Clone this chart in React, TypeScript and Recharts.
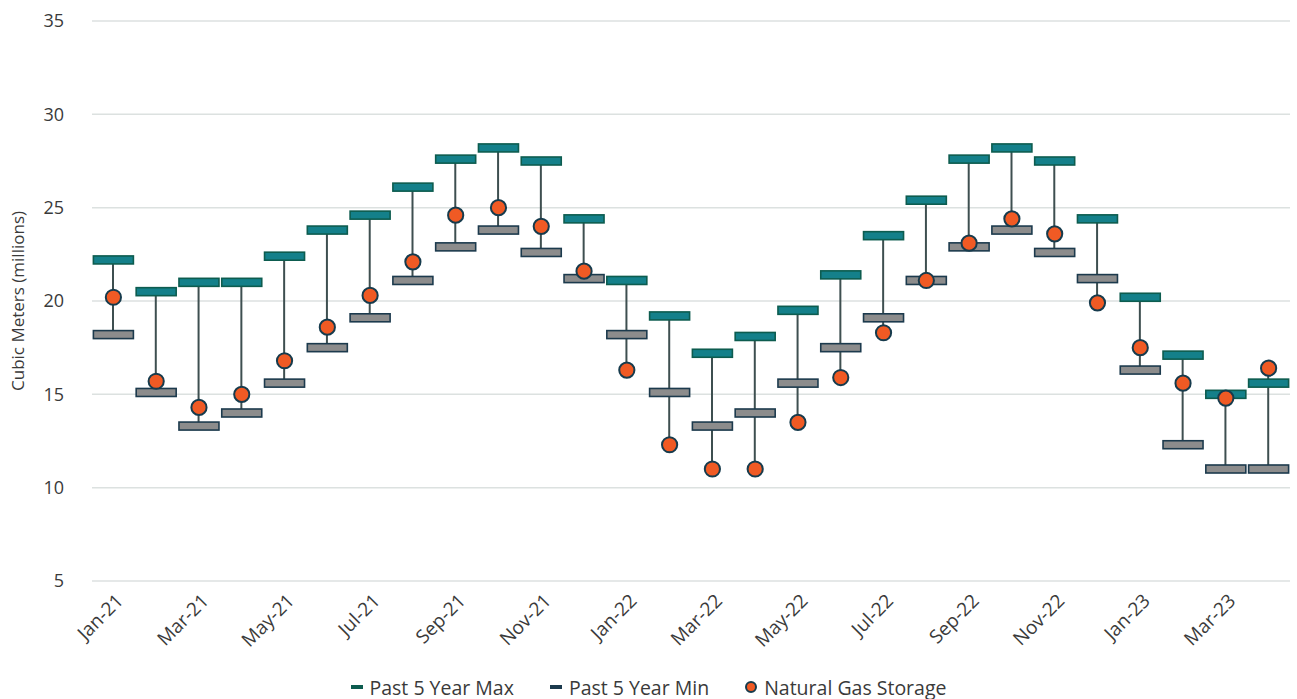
import { ComposedChart, Bar, Line, XAxis, YAxis, CartesianGrid, Legend } from "recharts";

const months = [
  "Jan-21", "Feb-21", "Mar-21", "Apr-21", "May-21", "Jun-21", "Jul-21", "Aug-21", "Sep-21", "Oct-21", "Nov-21", "Dec-21",
  "Jan-22", "Feb-22", "Mar-22", "Apr-22", "May-22", "Jun-22", "Jul-22", "Aug-22", "Sep-22", "Oct-22", "Nov-22", "Dec-22",
  "Jan-23", "Feb-23", "Mar-23", "Apr-23",
];

const maxVals = [
  22.2, 20.5, 21.0, 21.0, 22.4, 23.8, 24.6, 26.1, 27.6, 28.2, 27.5, 24.4,
  21.1, 19.2, 17.2, 18.1, 19.5, 21.4, 23.5, 25.4, 27.6, 28.2, 27.5, 24.4,
  20.2, 17.1, 15.0, 15.6,
];

const minVals = [
  18.2, 15.1, 13.3, 14.0, 15.6, 17.5, 19.1, 21.1, 22.9, 23.8, 22.6, 21.2,
  18.2, 15.1, 13.3, 14.0, 15.6, 17.5, 19.1, 21.1, 22.9, 23.8, 22.6, 21.2,
  16.3, 12.3, 11.0, 11.0,
];

const storageVals = [
  20.2, 15.7, 14.3, 15.0, 16.8, 18.6, 20.3, 22.1, 24.6, 25.0, 24.0, 21.6,
  16.3, 12.3, 11.0, 11.0, 13.5, 15.9, 18.3, 21.1, 23.1, 24.4, 23.6, 19.9,
  17.5, 15.6, 14.8, 16.4,
];

const yTicks = [5, 10, 15, 20, 25, 30, 35];

const data = months.map((month, i) => ({
  month,
  max: maxVals[i],
  min: minVals[i],
  storage: storageVals[i],
  range: [Math.min(minVals[i], storageVals[i]), Math.max(maxVals[i], storageVals[i])],
}));

const FONT = "'Open Sans', sans-serif";
const TEXT = "#3a3a3a";

const markBox = (fill: string, stroke: string, name: string) => (p: any) => {
  if (p.cx == null || p.cy == null) return <g key={`${name}-${p.index}`} />;
  return (
    <rect
      key={`${name}-${p.index}`}
      x={p.cx - 20}
      y={p.cy - 4}
      width={40}
      height={8}
      fill={fill}
      stroke={stroke}
      strokeWidth={1.6}
    />
  );
};

const storageDot = (p: any) => {
  if (p.cx == null || p.cy == null) return <g key={`st-${p.index}`} />;
  return <circle key={`st-${p.index}`} cx={p.cx} cy={p.cy} r={7.6} fill="#F05A24" stroke="#163B4D" strokeWidth={2} />;
};

const XTick = ({ x, y, payload }: any) => {
  const ax = x + 11;
  const ay = y + 13;
  return (
    <text
      x={ax}
      y={ay}
      transform={`rotate(-45 ${ax} ${ay})`}
      textAnchor="end"
      fill={TEXT}
      fontSize={19}
      fontFamily={FONT}
    >
      {payload.value}
    </text>
  );
};

const YLabel = ({ viewBox }: any) => {
  const cx = 24;
  const cy = viewBox.y + viewBox.height / 2;
  return (
    <text
      x={cx}
      y={cy}
      transform={`rotate(-90 ${cx} ${cy})`}
      textAnchor="middle"
      fill={TEXT}
      fontSize={17}
      fontFamily={FONT}
    >
      Cubic Meters (millions)
    </text>
  );
};

const LegendContent = () => (
  <div
    style={{
      display: "flex",
      justifyContent: "center",
      alignItems: "center",
      height: 30,
      paddingTop: 6,
      boxSizing: "border-box",
      fontFamily: FONT,
      fontSize: 19.5,
      color: TEXT,
      gap: 36,
    }}
  >
    <span style={{ display: "flex", alignItems: "center", gap: 7 }}>
      <span style={{ width: 12, height: 4, background: "#0D5C4F", display: "inline-block" }} />
      Past 5 Year Max
    </span>
    <span style={{ display: "flex", alignItems: "center", gap: 7 }}>
      <span style={{ width: 12, height: 4, background: "#1C3A4D", display: "inline-block" }} />
      Past 5 Year Min
    </span>
    <span style={{ display: "flex", alignItems: "center", gap: 7 }}>
      <span
        style={{
          width: 8,
          height: 8,
          borderRadius: "50%",
          background: "#F05A24",
          border: "2px solid #163B4D",
          display: "inline-block",
        }}
      />
      Natural Gas Storage
    </span>
  </div>
);

export default function App() {
  return (
    <div style={{ position: "absolute", left: 0, top: 0, background: "#fff" }}>
      <ComposedChart width={1297} height={699} data={data} margin={{ top: 21, right: 7, left: 0, bottom: 0 }}>
        <CartesianGrid vertical={false} stroke="#DCE1E0" strokeWidth={1.5} />
        <XAxis
          dataKey="month"
          interval={1}
          axisLine={false}
          tickLine={false}
          height={88}
          tick={<XTick />}
        />
        <YAxis
          domain={[5, 35]}
          ticks={yTicks}
          axisLine={false}
          tickLine={false}
          width={92}
          tickMargin={22}
          tick={{ fill: TEXT, fontSize: 18, fontFamily: FONT }}
          label={<YLabel />}
        />
        <Legend verticalAlign="bottom" content={<LegendContent />} wrapperStyle={{ left: 0, width: 1297 }} />
        <Line
          dataKey="min"
          stroke="none"
          dot={markBox("#8C8C8C", "#1C3A4D", "min")}
          activeDot={false}
          legendType="none"
          isAnimationActive={false}
        />
        <Bar dataKey="range" barSize={2} fill="#3E4F50" legendType="none" isAnimationActive={false} />
        <Line
          dataKey="max"
          stroke="none"
          dot={markBox("#14808A", "#0D5C4F", "max")}
          activeDot={false}
          legendType="none"
          isAnimationActive={false}
        />
        <Line
          dataKey="storage"
          stroke="none"
          dot={storageDot}
          activeDot={false}
          legendType="none"
          isAnimationActive={false}
        />
      </ComposedChart>
    </div>
  );
}
